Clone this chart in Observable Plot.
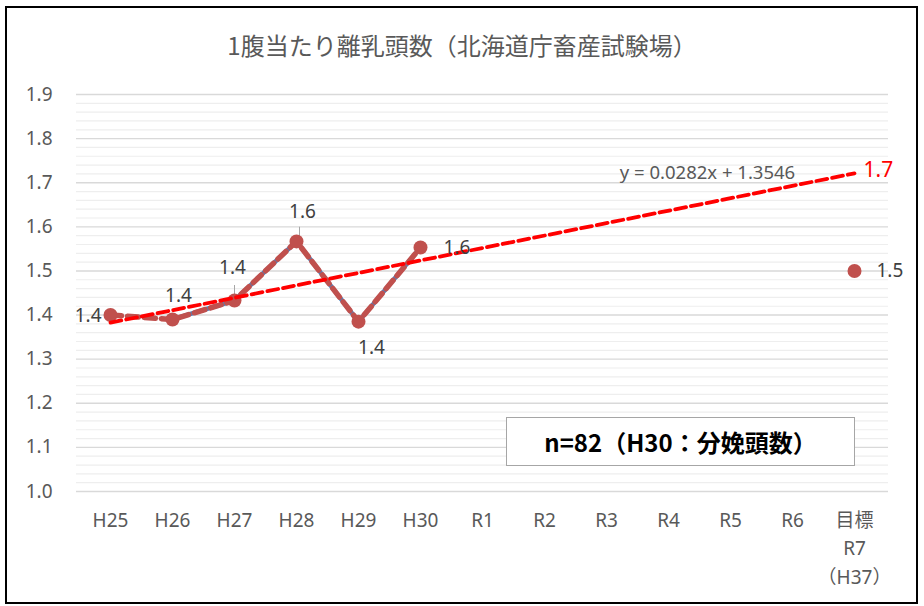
<!DOCTYPE html>
<html><head><meta charset="utf-8">
<script src="https://cdn.jsdelivr.net/npm/d3@7"></script>
<script src="https://cdn.jsdelivr.net/npm/@observablehq/plot@0.6"></script>
<style>
body{margin:0;background:#fff;}
#wrap{position:relative;width:924px;height:606px;font-family:"Noto Sans","Noto Sans CJK JP",sans-serif;overflow:hidden;}
#chart{position:absolute;left:0;top:0;}
#frame{position:absolute;left:5px;top:6px;width:913px;height:598px;border:2px solid #000;box-sizing:border-box;pointer-events:none;}
#title{position:absolute;top:29px;left:0;width:924px;text-align:center;font-family:"Noto Sans CJK JP",sans-serif;font-size:24px;line-height:32px;color:#595959;}
#note{position:absolute;left:506px;top:417px;width:349px;height:49px;border:1.5px solid #a6a6a6;box-sizing:border-box;background:#fff;font-family:"Noto Sans CJK JP",sans-serif;font-weight:bold;font-size:24px;display:flex;align-items:center;justify-content:center;color:#000;}
</style>
</head><body>
<div id="wrap">
  <div id="chart"></div>
  <div id="title"></div>
  <div id="note"></div>
  <div id="frame"></div>
</div>
<script>
// ---- data ----
const titleText = "1腹当たり離乳頭数（北海道庁畜産試験場）";
const noteText = "n=82（H30：分娩頭数）";
const categories = ["H25","H26","H27","H28","H29","H30","R1","R2","R3","R4","R5","R6","目標"];
const tickLabels = ["H25","H26","H27","H28","H29","H30","R1","R2","R3","R4","R5","R6","目標\nR7\n（H37）"];
const actualYears = ["H25","H26","H27","H28","H29","H30"];
const actualValues = [1.40, 1.39, 1.433, 1.567, 1.385, 1.553];
const targetCategory = "目標";
const targetValue = 1.5;
const trendSlope = 0.0282;
const trendIntercept = 1.3546;
const trendEquation = "y = 0.0282x + 1.3546";
const yTicks = [1.0, 1.1, 1.2, 1.3, 1.4, 1.5, 1.6, 1.7, 1.8, 1.9];

// ---- derived tables ----
const actual = actualYears.map((x, i) => ({x, y: actualValues[i]}));
const target = [{x: targetCategory, y: targetValue}];
const trend = [categories[0], categories[categories.length - 1]].map(x => ({
  x, y: trendSlope * (categories.indexOf(x) + 1) + trendIntercept
}));
const minorTicks = d3.range(0, 46).map(i => 1.0 + i * 0.02).filter(v => Math.abs(v * 10 - Math.round(v * 10)) > 1e-6);
const fmt = d3.format(".1f");

document.getElementById("title").textContent = titleText;
document.getElementById("note").textContent = noteText;

const FONT = '"Noto Sans","Noto Sans CJK JP",sans-serif';

// label placement (style only)
const labelPlacement = [
  {dx: -9, dy: 1, anchor: "end"},
  {dx: 6, dy: -24, anchor: "middle"},
  {dx: -2, dy: -33, anchor: "middle"},
  {dx: 6, dy: -29, anchor: "middle"},
  {dx: 13, dy: 26, anchor: "middle"},
  {dx: 23, dy: 0, anchor: "start"}
];

const labelMarks = actual.map((d, i) => Plot.text([d], {
  x: "x", y: "y", text: p => fmt(p.y),
  dx: labelPlacement[i].dx, dy: labelPlacement[i].dy,
  textAnchor: labelPlacement[i].anchor,
  fontSize: 19, fill: "#404040"
}));

const chart = Plot.plot({
  width: 924,
  height: 606,
  marginTop: 94,
  marginBottom: 115,
  marginLeft: 76,
  marginRight: 36,
  style: {fontFamily: FONT, background: "transparent", overflow: "visible"},
  x: {type: "point", domain: categories, padding: 0.5, axis: null},
  y: {domain: [1.0, 1.9], axis: null},
  marks: [
    Plot.ruleY(minorTicks, {stroke: "#eeeeee", strokeWidth: 1.2}),
    Plot.ruleY(yTicks, {stroke: "#d9d9d9", strokeWidth: 1.4}),
    Plot.text(yTicks, {y: d => d, text: d => fmt(d), frameAnchor: "left", textAnchor: "end", dx: -24, fontSize: 19, fill: "#595959"}),
    Plot.text(categories, {x: d => d, text: (d, i) => tickLabels[i], frameAnchor: "bottom", lineAnchor: "top", dy: 15, lineHeight: 1.5, fontSize: 19, fill: "#595959"}),
    // leader lines
    Plot.ruleX([actual[2]], {x: "x", y1: d => d.y + 0.007, y2: d => d.y + 0.034, stroke: "#a6a6a6", strokeWidth: 1}),
    Plot.ruleX([actual[3]], {x: "x", y1: d => d.y + 0.002, y2: d => d.y + 0.032, dx: 3, stroke: "#a6a6a6", strokeWidth: 1}),
    // actual series: blue line under red-brown dashed line
    Plot.line(actual.slice(1), {x: "x", y: "y", stroke: "#4F81BD", strokeWidth: 4.5}),
    Plot.line(actual, {x: "x", y: "y", stroke: "#C0504D", strokeWidth: 5.5, strokeDasharray: "11,6"}),
    Plot.dot(actual, {x: "x", y: "y", r: 7, fill: "#C0504D", stroke: "none"}),
    Plot.dot(target, {x: "x", y: "y", r: 7, fill: "#C0504D", stroke: "none"}),
    // trend line
    Plot.line(trend, {x: "x", y: "y", stroke: "#FF0000", strokeWidth: 3.8, strokeDasharray: "11,5"}),
    Plot.text([trend[1]], {x: "x", y: "y", text: d => fmt(d.y), dx: 9, dy: -3, textAnchor: "start", fontSize: 21, fill: "#FF0000"}),
    Plot.text([{x: "R5"}], {x: "x", frameAnchor: "top", dy: 71, dx: -23, text: () => trendEquation, fontSize: 18.5, fill: "#595959"}),
    ...labelMarks,
    Plot.text(target, {x: "x", y: "y", text: d => fmt(d.y), dx: 22, textAnchor: "start", fontSize: 19, fill: "#404040"})
  ]
});
document.getElementById("chart").appendChild(chart);
</script>
</body></html>
